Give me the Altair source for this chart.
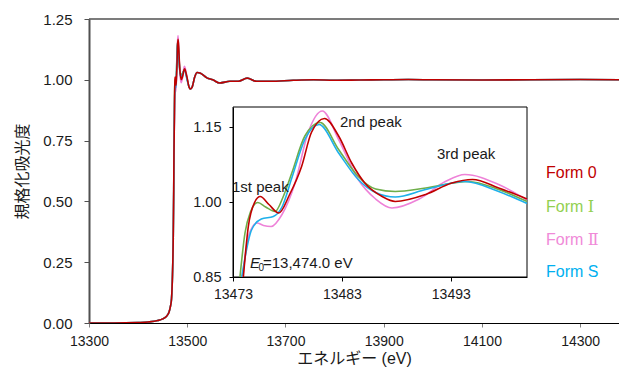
import altair as alt
import pandas as pd

# ---------------- data ----------------
forms = ["Form Ⅱ", "Form Ⅰ", "Form S", "Form 0"]          # draw order (red on top)
legend_forms = ["Form 0", "Form Ⅰ", "Form Ⅱ", "Form S"]
line_colors = {"Form 0": "#c00000", "Form Ⅰ": "#6fae4a", "Form Ⅱ": "#ee82d8", "Form S": "#1eb0ea"}
legend_colors = {"Form 0": "#c00000", "Form Ⅰ": "#92d050", "Form Ⅱ": "#f08ad8", "Form S": "#00b0f0"}

# pre-edge (shared, indistinguishable at full scale)
pre_e = [13300, 13350, 13400, 13420, 13440, 13450, 13458, 13463, 13466, 13468, 13470, 13471.5, 13472.5, 13473.0]
pre_v = [0.000, 0.000, 0.002, 0.004, 0.010, 0.017, 0.028, 0.045, 0.070, 0.100, 0.200, 0.350, 0.550, 0.700]

# XANES region (inset)
xanes_e = {
    "Form 0": [13473.95, 13474.4, 13475.0, 13475.5, 13476.3, 13477.2, 13478.2, 13479.3, 13480.2, 13481.4,
               13482.7, 13483.9, 13485.1, 13486.7, 13487.9, 13490.7, 13493.1, 13495.0, 13497.4, 13500.0],
    "Form Ⅰ": [13473.64, 13474.1, 13474.6, 13475.27, 13476.0, 13476.86, 13477.6, 13478.4, 13479.6, 13481.0,
               13482.7, 13484.5, 13486.1, 13487.9, 13490.7, 13494.6, 13497.4, 13500.0],
    "Form Ⅱ": [13473.9, 13474.4, 13475.2, 13475.8, 13476.5, 13477.5, 13478.7, 13479.9, 13481.2, 13482.7,
               13484.5, 13486.1, 13487.6, 13490.1, 13492.5, 13494.3, 13497.4, 13500.0],
    "Form S": [13473.8, 13474.7, 13475.6, 13476.7, 13477.5, 13478.4, 13479.6, 13480.9, 13482.7, 13484.5,
               13486.1, 13487.9, 13490.7, 13494.3, 13497.4, 13500.0],
}
xanes_v = {
    "Form 0": [0.850, 0.950, 1.000, 1.011, 0.995, 0.978, 1.015, 1.071, 1.139, 1.167,
               1.132, 1.078, 1.038, 1.011, 1.001, 1.015, 1.038, 1.045, 1.028, 1.006],
    "Form Ⅰ": [0.850, 0.938, 0.980, 0.999, 0.990, 0.981, 1.010, 1.058, 1.132, 1.159,
               1.105, 1.051, 1.026, 1.021, 1.028, 1.041, 1.025, 1.001],
    "Form Ⅱ": [0.850, 0.930, 0.958, 0.953, 0.951, 0.975, 1.038, 1.139, 1.182, 1.125,
               1.045, 1.006, 0.988, 1.006, 1.041, 1.055, 1.035, 1.004],
    "Form S": [0.850, 0.944, 0.966, 0.971, 0.990, 1.048, 1.125, 1.155, 1.098, 1.045,
               1.019, 1.010, 1.025, 1.041, 1.021, 0.997],
}

# post-edge EXAFS region (shared)
post_e = [13503, 13506, 13510, 13515, 13520, 13527, 13540, 13552, 13566, 13587, 13604, 13622, 13641,
          13669, 13716, 13757, 13800, 13850, 13900, 13950, 14000, 14100, 14200, 14300, 14400]
post_v = [0.975, 0.962, 0.970, 1.010, 1.030, 1.027, 1.008, 1.000, 0.987, 0.994, 0.994, 1.007, 0.994,
          0.994, 0.998, 1.000, 0.998, 0.999, 1.000, 1.001, 1.000, 0.999, 1.000, 1.001, 1.000]

main_x_ticks = [13300, 13500, 13700, 13900, 14100, 14300]
main_y_ticks = [0.0, 0.25, 0.5, 0.75, 1.0, 1.25]
inset_x_ticks = [13473, 13483, 13493]
inset_y_ticks = [0.85, 1.00, 1.15]

# ---------------- tables ----------------
main_rows, inset_rows = [], []
for i, f in enumerate(forms):
    es = pre_e + xanes_e[f] + post_e
    vs = pre_v + xanes_v[f] + post_v
    for k, (e, v) in enumerate(zip(es, vs)):
        main_rows.append({"form": f, "E": e, "v": v, "k": k, "o": i})
    for k, (e, v) in enumerate(zip(xanes_e[f], xanes_v[f])):
        inset_rows.append({"form": f, "E": e, "v": v, "k": k, "o": i})
df_main = pd.DataFrame(main_rows)
df_inset = pd.DataFrame(inset_rows)

FONT = "Liberation Sans, Arial, Noto Sans CJK JP, sans-serif"
W, H = 530, 304
color_scale = alt.Scale(domain=forms, range=[line_colors[f] for f in forms])

# ---------------- main plot ----------------
main_lines = alt.Chart(df_main).mark_line(strokeWidth=1.6, clip=True, interpolate="monotone").encode(
    x=alt.X("E:Q", scale=alt.Scale(domain=[13300, 14379], nice=False, zero=False),
            axis=alt.Axis(values=main_x_ticks, format="d", title="エネルギー (eV)", labelFlush=False,
                          domainColor="#000000", domainWidth=1.2, tickColor="#808080", tickSize=4,
                          labelPadding=7, titlePadding=2, labelFontSize=14)),
    y=alt.Y("v:Q", scale=alt.Scale(domain=[0, 1.25], nice=False, zero=False),
            axis=alt.Axis(values=main_y_ticks, format=".2f", title="規格化吸光度",
                          domainColor="#505050", domainWidth=2, tickColor="#505050", tickSize=5,
                          labelPadding=12, titlePadding=12, labelFontSize=15)),
    color=alt.Color("form:N", scale=color_scale, legend=None),
    detail="o:O",
    order="k:Q",
)

top_border = alt.Chart(pd.DataFrame({"a": [0]})).mark_rule(color="#505050", strokeWidth=1.6).encode(
    x=alt.value(0), x2=alt.value(W), y=alt.value(0)
)

main_layer = alt.layer(main_lines, top_border)

# ---------------- inset ----------------
IX0, IX1, IY0, IY1 = 144, 438, 258, 88
inset_box = alt.Chart(pd.DataFrame({"a": [0]})).mark_rect(fill="white", stroke="#000000", strokeWidth=1).encode(
    x=alt.value(IX0), x2=alt.value(IX1), y=alt.value(IY1), y2=alt.value(IY0)
)

inset_lines = alt.Chart(df_inset).mark_line(strokeWidth=1.6, interpolate="monotone").encode(
    x=alt.X("E:Q", scale=alt.Scale(domain=[13473, 13500], range=[IX0, IX1], nice=False, zero=False),
            axis=alt.Axis(orient="bottom", offset=-(H - IY0), values=inset_x_ticks, format="d", title=None,
                          labelFlush=False,
                          domainColor="#000000", tickColor="#000000", tickSize=4, labelPadding=6,
                          labelFontSize=14, zindex=1)),
    y=alt.Y("v:Q", scale=alt.Scale(domain=[0.85, 1.19], range=[IY0, IY1], nice=False, zero=False),
            axis=alt.Axis(orient="left", offset=-IX0, values=inset_y_ticks, format=".2f", title=None,
                          domainColor="#000000", tickColor="#000000", tickSize=4, labelPadding=8,
                          labelFontSize=14.5, zindex=1)),
    color=alt.Color("form:N", scale=color_scale, legend=None),
    detail="o:O",
    order="k:Q",
)

dummy = pd.DataFrame({"a": [0]})


def label(text, x, y, size=15, color="#1a1a1a", style="normal", align="left"):
    return alt.Chart(dummy).mark_text(text=text, font=FONT, fontSize=size, color=color, fontStyle=style,
                                      align=align, baseline="middle").encode(x=alt.value(x), y=alt.value(y))


annotations = [
    label("1st peak", 143, 168),
    label("2nd peak", 251, 103),
    label("3rd peak", 348, 135),
    label("E", 161, 244, style="italic"),
    label("0", 169.5, 249, size=10),
    label("=13,474.0 eV", 174, 244),
]

legend_y = {"Form 0": 154, "Form Ⅰ": 188, "Form Ⅱ": 221, "Form S": 253}
legend = [
    alt.Chart(dummy).mark_text(text=f, font="Liberation Sans, DejaVu Serif, sans-serif", fontSize=16,
                               color=legend_colors[f], align="left", baseline="middle").encode(
        x=alt.value(457), y=alt.value(legend_y[f]))
    for f in legend_forms
]

inset_layer = alt.layer(inset_box, inset_lines, *annotations, *legend)

chart = alt.layer(main_layer, inset_layer).resolve_scale(x="independent", y="independent").properties(
    width=W, height=H, autosize=alt.AutoSizeParams(type="none"),
    padding={"left": 81, "top": 11, "right": 0, "bottom": 44},
    background="white",
).configure_view(stroke=None).configure_axis(
    grid=False, labelFont=FONT, titleFont=FONT, titleFontSize=16,
    labelColor="#1a1a1a", titleColor="#1a1a1a", titleFontWeight="normal",
)

chart.save("out.html", embed_options={"renderer": "svg", "actions": False})
